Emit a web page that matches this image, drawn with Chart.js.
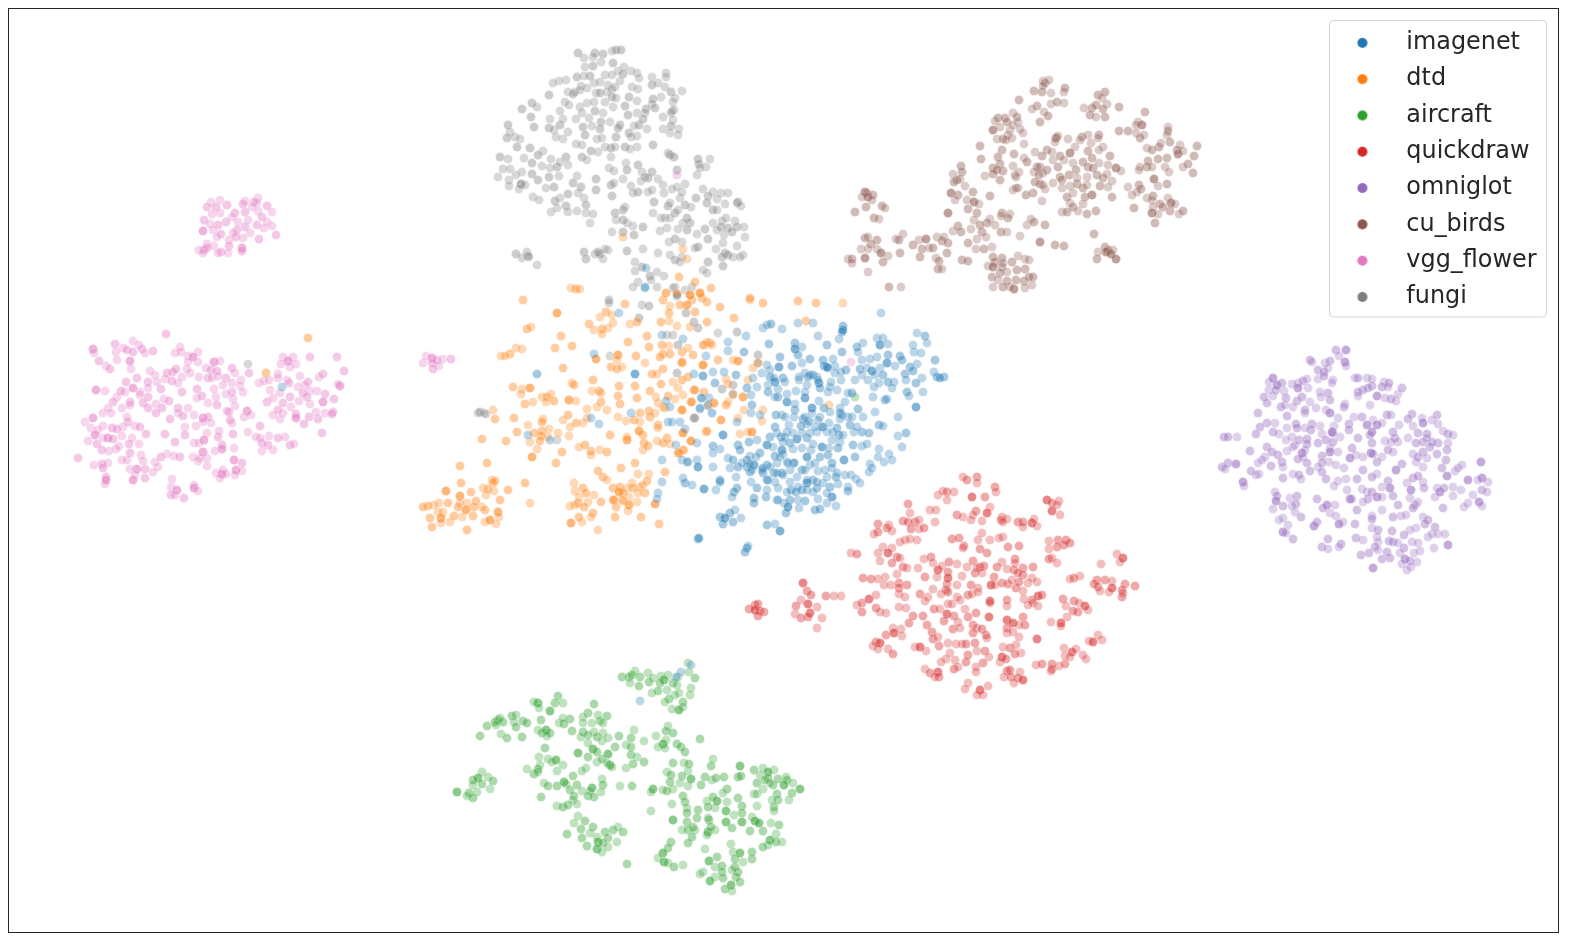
<!DOCTYPE html>
<html><head><meta charset="utf-8">
<style>html,body{margin:0;padding:0;background:#fff}canvas{display:block}</style>
<script src="https://cdn.jsdelivr.net/npm/chart.js@4"></script>
</head><body><canvas id="c" width="1573" height="940"></canvas>
<script>
// every point is x, y, n : n = how many samples overlap on that spot
const seriesNames=['imagenet','dtd','aircraft','quickdraw','omniglot','cu_birds','vgg_flower','fungi'];
const seriesColors=['#1f77b4','#ff7f0e','#2ca02c','#d62728','#9467bd','#8c564b','#e377c2','#7f7f7f'];
const fungi=[578,53,2,584,58,1,595,53,2,593,57,1,603,54,2,612,51,1,616,50,2,621,50,2,613,63,2,601,62,1,593,66,2,585,67,1,618,71,1,624,67,1,631,71,1,623,74,2,637,73,1,639,78,1,620,81,1,605,75,1,612,75,1,590,76,2,584,76,1,577,77,2,566,80,1,559,81,1,553,83,1,581,86,1,594,83,1,600,82,1,608,85,1,615,87,1,632,87,1,638,89,1,652,77,1,652,85,2,658,83,1,666,73,1,666,77,1,665,87,1,671,92,2,682,91,1,675,98,1,673,102,1,661,97,1,653,99,2,652,104,1,655,108,2,672,111,1,674,110,1,671,113,1,663,117,1,673,120,1,671,126,2,663,129,1,679,129,1,670,133,1,678,135,1,549,95,2,568,92,1,573,94,2,575,92,1,580,90,1,587,88,1,596,93,1,600,93,2,607,92,1,612,89,1,565,102,1,569,105,1,560,111,1,580,107,1,587,103,1,594,102,1,605,102,1,612,97,2,616,98,1,625,106,2,629,97,2,637,101,1,646,109,2,645,113,1,637,113,1,628,115,2,613,107,1,603,113,1,595,111,2,589,118,1,582,113,1,576,119,1,601,122,2,610,122,1,620,125,2,618,128,2,634,126,1,639,125,2,643,119,2,647,129,1,583,127,2,592,126,1,600,129,2,585,135,2,597,139,1,602,138,1,616,137,2,629,133,2,631,137,1,637,136,1,560,125,2,563,119,1,550,119,1,549,128,2,534,127,2,556,137,1,563,139,1,568,132,1,554,130,1,522,109,2,532,103,2,537,107,1,531,117,2,508,125,2,510,132,1,507,138,2,515,137,1,520,139,1,517,147,2,530,148,2,543,151,1,538,155,2,524,158,1,551,159,1,500,157,2,508,159,1,532,163,2,503,169,1,510,169,1,522,172,1,542,166,1,550,168,1,557,167,2,566,157,2,568,165,1,560,162,1,532,174,2,516,175,1,498,177,1,509,180,1,521,184,3,525,185,1,519,189,1,509,186,1,538,180,2,549,177,2,559,176,1,577,176,1,533,197,1,546,188,1,554,187,2,560,198,1,568,194,2,539,200,1,555,201,2,573,183,2,581,187,2,578,193,1,584,198,1,596,179,2,596,190,2,566,206,2,568,212,1,557,208,1,551,212,1,577,211,1,586,205,2,586,213,1,593,214,1,590,223,1,576,144,1,582,145,1,591,151,2,598,152,1,605,147,1,611,148,2,615,147,1,611,157,1,625,147,2,630,149,1,637,147,1,582,157,2,587,160,1,609,168,1,614,171,1,626,163,1,627,170,2,623,179,1,638,165,2,642,172,1,652,172,2,648,178,2,645,177,1,658,179,1,653,145,2,668,153,1,670,155,2,674,157,2,677,170,2,698,159,2,699,164,2,710,159,1,706,167,1,697,175,1,700,168,1,611,185,2,614,183,1,612,196,2,631,186,1,638,192,2,633,193,1,641,181,1,648,192,1,652,190,1,663,185,1,664,193,1,672,189,1,677,187,1,685,184,1,680,198,1,682,192,1,696,198,2,654,202,2,668,206,2,670,203,1,685,205,2,691,207,1,703,189,1,713,192,1,721,193,1,728,193,1,708,196,2,707,203,2,717,199,1,725,204,1,738,202,2,737,203,1,741,206,1,713,210,2,717,210,1,615,213,2,623,210,2,625,207,1,616,220,1,623,220,2,627,223,1,653,213,1,661,218,1,665,218,1,675,213,2,678,210,1,670,218,1,687,218,2,690,223,2,683,223,1,633,226,1,643,227,2,612,232,1,623,232,2,634,235,2,660,231,1,667,228,1,678,229,1,687,230,2,697,234,1,705,229,2,713,223,1,722,221,1,726,218,1,721,227,2,728,228,2,735,221,1,737,227,2,744,227,1,745,237,1,732,232,2,717,230,1,724,235,1,708,239,2,698,247,2,695,248,1,716,249,1,723,243,1,737,246,1,725,253,2,728,255,2,722,257,2,733,257,1,743,255,1,740,257,1,723,266,2,708,262,2,703,270,1,707,273,1,669,242,1,675,239,2,682,242,1,670,255,1,675,260,2,682,257,1,680,262,1,643,249,1,658,253,1,664,276,1,657,272,1,635,262,1,627,251,2,635,271,1,642,267,2,650,276,2,651,280,1,638,282,1,633,287,1,657,287,1,675,287,1,685,290,1,692,287,1,516,254,2,527,252,1,528,256,2,529,257,1,522,258,1,537,265,1,584,252,2,586,259,2,595,254,1,598,252,2,600,254,2,603,259,1,608,250,1,605,249,1,478,413,1,480,412,2,484,413,1,486,414,1,610,356,1,557,440,1,609,300,2,609,303,1,642,305,1,649,306,2,639,318,2,673,288,1,686,313,2,694,322,2,698,328,2,667,335,1,673,335,1,678,345,2,677,373,2,708,406,1,695,418,2,718,333,1,737,332,2,758,355,2,722,389,2,733,385,2,708,405,2,694,418,2,758,363,2,733,394,2,248,364,1];
const cu_birds=[1019,100,2,1034,91,2,1043,81,1,1045,83,2,1049,80,1,1042,92,2,1051,93,1,1043,86,1,1037,106,2,1032,109,1,1051,104,1,1057,102,2,1064,103,1,1064,92,1,1065,88,2,1044,112,1,1048,116,2,1040,122,2,1098,95,2,1105,92,2,1102,98,1,1084,108,1,1092,108,2,1096,105,2,1107,104,1,1103,109,2,1090,115,2,1096,117,1,1105,117,2,1119,107,2,1145,112,2,1138,122,1,1142,125,3,1136,125,1,1119,131,2,1128,131,2,1136,133,1,1140,138,2,1144,135,1,1168,127,1,1168,131,2,1167,135,1,1161,143,1,1159,147,2,1147,148,1,1152,150,2,1170,142,2,1180,145,1,1177,150,2,1178,154,3,1183,151,1,1197,146,2,1194,156,2,1193,173,2,1188,164,2,1183,167,1,1167,158,2,1158,159,2,1148,161,2,1147,167,2,1140,167,1,1139,170,1,1152,167,1,1165,167,1,1169,172,1,1154,179,3,1167,184,2,1158,186,1,1139,185,2,1128,187,1,1141,189,2,1137,192,1,1132,195,1,1147,198,1,1134,208,2,1153,196,2,1152,200,1,1168,198,1,1160,204,2,1163,207,2,1171,203,3,1175,204,1,1170,211,2,1153,207,1,1152,213,3,1158,214,1,1179,214,1,1183,211,2,1155,223,2,1112,197,2,1116,168,3,1121,171,1,1108,165,1,1110,156,2,1099,163,1,1103,147,1,1099,150,1,1099,135,2,1098,138,1,1088,135,1,1082,137,2,1080,140,1,1091,143,1,1075,147,1,1070,153,3,1068,139,1,1056,138,3,1058,136,1,1055,142,1,1047,150,2,1052,152,1,1035,152,1,1042,156,2,1060,156,2,1053,160,1,1064,160,1,1058,167,2,1040,167,2,1037,167,2,1047,170,2,1043,173,1,1034,172,1,1039,175,2,1083,162,2,1073,163,1,1076,170,2,1088,151,2,1092,158,2,1088,167,2,1093,168,2,1087,177,1,1097,175,2,1103,178,2,1107,174,1,1112,181,1,1108,187,1,1100,186,2,1060,177,2,1069,175,2,1062,180,2,1053,183,1,1062,188,1,1070,186,1,1077,184,2,1083,188,2,1087,185,1,1077,178,1,1092,195,3,1085,197,2,1073,193,1,1067,197,2,1070,203,1,1083,204,1,1062,212,1,1067,212,2,1073,207,2,1078,211,1,1087,214,2,1096,211,2,1035,182,2,1040,184,2,1045,189,1,1043,185,1,1033,193,2,1026,195,2,1042,201,1,1013,190,1,1018,188,1,1016,188,1,1015,175,1,1019,172,1,1013,166,1,1016,177,1,1014,154,2,1024,158,1,1027,162,2,1024,144,1,1002,150,2,998,157,2,1000,164,2,1003,171,2,993,168,2,997,170,2,993,174,2,1000,180,2,985,176,1,980,146,2,981,159,2,995,121,1,998,118,2,1005,118,2,1007,122,2,1013,113,1,1017,117,2,1018,122,1,993,130,3,1000,127,1,1010,130,1,1013,125,1,1020,129,1,1023,133,1,1008,135,1,997,139,1,1003,139,2,1012,138,1,1006,140,1,961,166,2,962,172,2,953,174,1,957,180,2,954,182,2,960,179,1,951,193,3,965,186,1,958,195,2,973,192,2,955,200,1,967,200,1,974,202,3,979,204,1,968,209,2,948,213,3,977,213,2,990,196,2,974,220,1,1002,213,2,1001,216,1,1010,214,1,1008,218,2,990,219,1,995,225,1,987,223,2,980,225,2,982,232,2,986,237,1,977,239,1,971,229,1,958,226,2,953,231,1,961,232,2,968,243,2,976,249,1,984,249,2,992,247,1,1001,232,2,1007,232,1,1020,236,1,1027,225,1,1031,219,1,1034,222,2,1045,225,2,1040,242,3,1055,245,2,1064,246,2,1094,234,2,1105,247,2,1108,250,2,1113,250,1,1106,252,3,1111,254,3,1116,259,3,1098,252,1,1097,259,2,993,257,2,1002,258,2,995,262,2,988,266,1,993,267,3,1002,267,2,1003,263,1,1012,262,2,1018,256,1,1025,259,1,1029,260,1,1025,269,2,1017,270,2,1007,272,1,1000,273,2,992,277,2,998,280,1,1007,281,2,1016,280,2,1024,281,2,1029,277,2,1033,277,2,1032,285,1,1025,288,1,1014,289,3,1010,287,1,1003,287,2,993,287,1,865,192,3,867,193,1,868,197,3,862,197,1,873,195,2,872,200,1,866,207,2,882,206,2,885,208,1,855,212,2,874,218,2,879,219,1,865,238,2,868,237,1,877,240,2,871,244,2,861,249,1,868,249,1,877,249,1,881,253,3,888,256,1,883,262,2,848,259,1,852,259,2,852,263,1,865,258,3,868,272,1,889,287,2,901,287,1,896,239,1,899,240,2,903,234,1,900,253,2,913,245,2,919,240,1,926,239,3,922,249,2,929,248,1,933,248,2,920,257,2,937,237,1,942,241,2,944,237,1,948,243,2,947,253,2,936,258,1,939,261,2,938,269,2,942,269,1,962,260,2,968,261,2];
const vgg_flower=[211,202,1,220,200,1,227,205,2,207,207,2,216,207,2,245,201,1,243,204,2,258,198,1,254,202,2,257,203,1,267,206,2,252,207,1,272,212,1,258,211,1,245,212,2,262,217,2,235,213,2,232,217,1,212,214,1,220,213,1,204,220,2,226,222,2,238,222,1,218,225,2,210,224,1,248,220,1,267,222,1,257,225,2,245,227,2,264,228,1,272,226,1,203,231,3,213,230,1,221,234,2,237,230,2,250,233,1,233,233,1,259,239,2,276,235,2,236,237,2,229,240,1,243,238,1,217,237,1,207,244,1,214,246,1,199,250,1,204,250,2,207,248,2,203,253,1,229,246,2,221,252,2,218,253,1,228,253,1,242,248,3,242,251,2,166,334,2,93,349,3,94,353,1,99,361,2,115,344,2,123,348,1,116,352,1,127,350,2,133,352,2,133,341,1,139,345,1,130,361,3,117,360,1,142,349,2,145,353,1,153,351,2,106,366,1,110,369,2,131,369,1,180,347,1,175,353,1,181,352,1,188,356,1,193,357,3,198,352,1,188,362,1,198,362,1,214,362,3,220,361,1,232,368,2,235,373,1,249,373,2,206,368,1,211,370,2,217,371,2,199,377,1,208,378,2,212,378,1,226,378,2,218,376,1,176,369,2,173,372,2,167,373,2,187,369,1,190,373,1,182,377,1,150,371,1,155,375,1,137,378,2,126,382,2,148,382,2,157,382,1,165,379,1,172,381,2,178,383,1,133,388,3,140,392,1,148,388,1,125,392,1,121,391,2,96,390,3,105,391,1,161,389,2,148,397,2,140,395,1,117,397,1,113,402,2,182,392,2,164,399,1,169,401,2,143,403,2,130,402,2,130,405,1,156,404,1,122,408,1,148,408,2,162,408,2,156,413,2,178,408,2,188,408,1,178,413,1,183,416,2,197,389,2,202,396,2,197,398,1,214,389,1,216,397,1,208,403,1,217,405,2,223,385,1,232,383,1,232,392,2,241,380,1,240,386,1,243,392,1,226,394,1,233,399,1,235,406,1,229,412,2,227,411,1,247,411,3,244,417,1,251,415,1,230,420,2,232,423,1,194,415,1,203,418,3,208,417,2,196,426,1,211,423,1,203,422,1,185,427,1,170,419,2,165,434,2,146,434,2,248,432,1,260,426,2,185,435,2,175,442,2,207,433,1,218,437,2,219,431,1,233,434,2,204,440,3,194,443,1,199,443,1,222,445,2,222,449,3,234,448,1,215,451,1,203,452,3,207,458,1,193,457,1,198,461,1,200,458,1,207,466,1,180,457,2,174,456,1,167,454,1,161,457,2,155,462,1,158,467,1,234,460,3,242,463,2,236,470,3,242,471,1,235,475,1,216,473,1,223,470,1,222,474,3,226,474,1,220,478,1,283,357,1,293,357,1,288,361,3,281,364,1,296,364,1,290,367,1,310,357,2,337,357,2,344,371,2,323,374,2,319,377,1,300,376,1,278,374,1,278,378,1,259,383,1,264,381,1,269,380,1,287,380,1,289,383,2,308,382,2,305,385,1,298,387,1,340,386,3,338,384,1,325,394,2,317,391,1,310,391,1,303,393,2,270,390,1,280,393,1,290,397,2,283,403,2,307,397,2,310,404,1,323,402,3,334,399,2,299,401,1,267,402,2,273,398,1,291,407,1,278,410,2,283,413,1,273,415,1,280,419,1,296,414,2,296,418,3,309,417,2,318,419,2,316,412,1,325,413,1,333,412,2,332,414,2,304,424,2,322,433,2,256,437,1,260,438,1,269,436,1,278,438,2,285,437,1,262,443,2,268,445,2,262,451,1,273,450,1,290,445,2,294,444,1,103,413,1,108,408,1,111,413,1,93,418,3,85,422,1,128,422,2,127,417,1,123,427,1,135,426,1,140,427,2,103,426,1,91,428,1,98,430,1,112,428,2,117,429,2,95,435,3,108,438,3,113,439,2,122,436,1,132,438,1,103,438,1,88,441,1,97,444,2,129,444,2,139,444,1,119,446,1,102,450,2,109,451,1,116,449,1,130,453,2,78,458,2,94,465,1,102,464,2,108,463,1,103,468,2,122,460,1,127,460,1,141,455,1,143,461,1,137,469,3,145,469,2,130,469,1,135,475,1,153,472,1,145,478,2,133,480,3,106,477,2,106,480,3,105,484,1,172,479,1,171,487,1,177,490,3,171,495,2,175,495,1,184,498,2,194,485,1,194,488,3,198,491,1,426,356,1,432,358,3,437,360,2,443,359,1,451,359,2,423,363,1,432,363,2,439,366,1,433,369,2,851,362,1,677,175,1];
const dtd=[308,338,2,266,373,2,523,300,2,557,313,3,527,329,2,531,327,1,561,336,2,572,346,2,555,348,2,516,348,1,522,349,1,510,354,2,501,356,1,505,356,1,563,368,2,571,288,1,576,289,2,580,289,1,625,304,2,606,312,2,600,317,1,612,315,1,613,323,1,589,324,2,594,330,1,602,329,2,608,328,1,602,334,1,666,293,1,663,300,2,677,294,2,690,295,2,700,293,2,692,300,2,702,298,2,707,302,2,687,305,3,670,306,1,680,305,2,669,313,2,695,312,2,661,322,2,669,321,1,630,324,1,637,322,2,677,326,1,707,322,2,690,327,1,647,336,2,628,342,2,649,347,2,669,346,1,662,345,2,682,352,2,688,348,1,618,355,3,636,356,2,663,354,2,670,354,2,660,357,2,596,359,3,617,360,1,645,363,1,693,355,2,704,345,1,710,343,2,682,363,2,611,367,2,617,369,2,622,367,1,663,369,2,652,374,2,657,374,1,703,365,2,673,382,1,682,380,2,688,377,2,593,380,2,661,384,2,572,383,1,574,385,2,513,387,2,522,389,1,530,388,3,521,394,1,619,386,2,635,386,2,592,391,1,599,391,2,601,393,1,650,391,2,618,396,2,637,398,2,542,397,1,551,394,1,547,397,2,546,402,1,554,401,2,569,400,3,576,401,1,525,404,2,533,402,1,620,404,2,601,402,2,597,407,1,607,410,1,656,397,1,658,403,1,668,396,2,675,399,1,678,388,1,683,395,1,695,390,2,692,402,2,663,407,1,682,410,2,587,409,1,568,415,2,563,420,1,493,410,1,495,419,2,514,418,2,543,419,1,542,422,2,528,425,1,570,427,1,576,423,2,583,423,1,587,418,1,618,417,1,626,421,1,640,413,2,634,420,2,640,422,1,649,411,2,650,417,2,655,413,1,658,425,2,665,408,1,643,435,2,639,431,3,658,428,1,517,432,2,534,433,2,542,431,2,541,436,2,549,429,1,558,433,1,548,437,1,530,442,1,506,441,2,482,439,2,569,436,1,610,435,2,627,440,3,627,437,1,540,441,2,667,438,2,657,441,1,663,443,2,670,444,1,683,433,2,691,441,2,706,432,1,585,445,2,579,447,1,644,443,2,648,446,2,643,450,1,591,451,2,600,450,1,607,452,2,562,452,2,537,449,1,532,457,3,591,455,1,684,450,1,678,453,2,556,463,2,460,466,2,487,463,2,598,471,2,621,468,2,635,463,2,638,474,1,665,472,2,603,477,2,607,480,1,649,474,1,647,481,2,632,483,1,461,483,2,525,483,2,574,483,1,583,488,2,575,491,1,586,493,2,613,488,2,620,487,2,627,488,1,619,492,3,623,493,2,633,488,2,640,487,1,643,485,1,645,493,2,638,493,1,629,497,1,613,500,2,622,500,1,594,495,1,579,497,1,578,503,2,588,502,1,601,502,2,614,500,2,623,501,1,637,502,1,629,505,3,655,504,3,616,507,2,575,505,1,570,506,1,584,507,2,628,511,1,593,513,2,591,517,1,579,517,2,582,522,1,571,523,3,615,517,2,641,517,2,659,524,2,598,530,1,492,480,1,495,481,2,493,483,1,483,488,1,488,489,2,494,491,1,508,490,2,446,491,3,460,496,3,471,492,2,486,495,1,500,500,2,530,503,1,476,501,2,439,503,1,434,505,1,428,506,2,423,507,2,448,503,2,460,503,1,467,503,1,458,507,2,466,510,3,474,507,2,485,510,2,482,507,1,438,512,1,443,512,1,462,517,1,454,516,2,473,516,2,498,512,3,499,517,1,430,518,2,441,518,3,441,523,1,450,522,1,485,522,1,490,520,3,496,524,1,432,527,2,467,530,2,734,318,2,750,300,1,763,303,2,798,301,2,816,303,2,843,303,1,806,321,2,720,307,2,707,342,1,712,345,1,703,345,1,682,362,2,703,365,2,718,360,2,733,360,1,738,361,3,753,368,1,758,363,1,748,380,1,726,379,1,728,384,1,694,390,2,704,392,2,733,395,1,743,397,3,728,402,1,714,403,3,726,405,2,744,410,1,763,410,1,682,410,2,691,402,2,721,420,3,738,418,1,762,421,1,707,431,2,683,433,2,691,441,2,752,432,3,748,432,1,740,434,1,683,450,1,679,453,2,829,405,1,623,237,1,683,249,1,687,259,1,679,277,2,695,282,2,711,288,2,666,293,1,677,294,2,690,295,2,700,293,2,750,298,2];
const imagenet=[881,313,1,763,328,1,767,325,1,771,324,2,782,329,1,798,323,1,813,323,1,843,326,2,843,330,3,842,332,2,818,336,1,839,339,1,827,345,2,746,336,1,728,342,1,728,351,1,769,344,2,795,343,2,802,347,1,795,349,3,798,355,2,744,352,2,780,357,2,706,356,1,917,333,1,925,336,2,927,343,1,877,338,1,883,338,1,880,345,3,888,344,1,863,343,1,857,347,2,842,352,2,858,352,1,913,345,1,914,352,1,921,353,1,888,355,2,877,357,1,900,356,2,902,360,2,870,359,1,862,360,1,887,363,3,895,366,1,917,364,1,935,360,2,910,367,2,880,368,1,872,371,3,860,369,2,867,368,1,883,375,2,875,375,1,905,374,2,913,371,2,934,372,1,937,377,2,944,377,2,940,378,2,922,378,1,906,380,1,916,383,2,888,382,2,894,382,1,879,383,1,868,380,1,862,375,1,855,380,1,874,387,1,892,388,1,907,392,2,923,392,1,909,396,1,873,397,1,885,400,2,887,399,1,916,407,3,875,412,1,898,417,1,906,433,2,898,436,1,902,447,1,879,425,2,883,426,1,879,449,1,889,454,1,878,457,1,884,462,1,892,460,1,870,464,1,872,468,1,869,472,1,863,417,1,858,409,2,848,417,1,842,415,2,852,393,2,848,393,1,845,402,1,841,380,1,846,370,2,835,366,1,833,359,1,823,360,2,824,366,2,827,367,3,810,359,2,802,363,1,792,366,2,779,367,3,767,365,1,762,373,1,770,377,2,775,382,3,783,378,2,757,387,1,768,392,2,753,378,1,747,388,2,751,395,1,736,375,2,724,372,1,713,372,1,715,383,2,703,376,1,701,398,1,709,398,1,700,409,1,712,413,2,752,405,2,751,413,1,737,422,1,760,415,1,778,397,2,787,402,3,796,391,1,805,398,3,807,385,1,819,383,3,820,388,2,831,382,1,828,392,1,817,377,1,808,377,2,799,380,1,805,373,1,813,375,2,819,401,1,824,408,2,830,412,1,840,413,2,812,408,3,795,410,2,782,415,1,776,415,2,785,417,1,794,417,1,803,419,2,809,421,2,820,417,1,801,426,2,789,425,1,775,427,2,770,437,2,757,440,1,749,442,2,738,445,2,740,450,2,713,446,2,720,449,1,713,453,1,723,435,3,767,445,3,781,437,2,787,432,1,797,439,3,807,438,2,817,432,1,823,427,2,829,423,1,837,428,2,850,425,2,854,432,1,862,432,2,869,433,2,839,435,2,832,440,1,840,442,1,822,447,3,838,448,2,853,445,2,862,446,1,867,444,1,811,450,1,790,443,2,782,450,3,775,456,2,783,454,1,793,449,1,760,453,2,750,456,1,728,458,1,733,460,2,682,460,1,697,460,1,687,462,1,698,467,3,713,467,1,747,460,2,730,468,1,738,467,2,747,467,2,754,465,3,750,472,2,767,465,2,777,463,1,794,463,3,787,462,1,807,457,3,820,457,2,828,455,2,832,463,2,844,460,3,855,457,2,845,475,1,851,475,1,856,479,1,860,483,1,848,487,1,848,491,2,838,484,1,836,477,2,827,477,1,818,471,1,810,465,1,802,470,2,790,470,1,782,473,2,774,473,2,763,473,2,763,468,2,752,470,1,736,477,1,720,480,2,720,482,2,683,478,1,685,483,2,692,485,1,704,489,3,716,490,1,737,488,2,734,492,2,732,497,1,751,482,1,757,488,2,767,480,2,775,482,1,778,488,1,766,497,2,777,500,1,754,498,2,754,503,2,790,482,1,791,490,2,796,492,2,802,490,2,807,483,3,813,480,2,807,490,1,817,488,2,823,483,1,830,487,2,832,497,3,827,503,1,836,506,1,805,501,2,798,500,1,790,500,2,784,503,1,788,507,3,786,513,2,799,508,1,815,510,2,820,509,2,818,499,1,813,492,1,735,510,1,730,513,2,720,517,2,725,518,3,723,524,2,733,522,2,741,518,1,767,525,2,775,524,1,780,531,3,698,539,2,748,546,1,747,548,2,745,552,2,619,313,1,645,288,1,594,354,1,537,374,2,635,374,3,591,418,1,599,424,1,528,435,1,550,440,1,631,413,1,662,335,1,683,339,1,668,422,1,672,422,1,680,422,1,685,429,1,676,445,1,662,460,1,688,462,1,662,482,1,658,493,1,657,499,1,699,538,2,694,374,1,703,376,1,700,408,1,702,398,1,666,401,1,670,407,1,697,443,1,646,268,1,645,287,1,677,296,1,282,387,1,691,665,1,681,672,1,676,677,1,640,701,1,770,370,1,774,378,1,768,385,1,778,389,1,785,382,1,799,377,1,810,375,1,818,380,1,828,368,1,835,373,1,841,372,1,830,387,1,837,390,1,787,394,1,775,397,1,805,392,1,795,404,1,812,413,1,818,420,1,805,417,1,807,424,1,815,427,1,793,433,1,785,437,1,777,433,1,783,442,1,802,433,1,810,433,1,827,432,1,822,427,1,833,432,1,840,408,1,840,419,1,852,417,1,857,427,1,843,435,1,829,448,1,813,444,1,802,448,1,773,447,1,780,457,1,788,463,1,770,467,1,756,457,1,742,463,1,750,464,1,762,470,1,777,473,1,768,480,1,783,475,1,797,477,1,805,470,1,815,463,1,825,470,1,832,468,1,837,473,1,807,480,1,798,487,1,817,482,1,827,493,1,787,492,1,778,500,1,767,490,1];
const quickdraw=[963,477,1,967,480,2,977,477,2,977,483,1,995,487,2,996,492,1,947,492,2,943,491,1,938,495,1,954,492,1,947,500,1,972,497,3,985,497,2,908,504,2,930,510,1,936,510,1,910,513,1,990,507,1,987,513,3,976,511,2,973,515,1,957,515,2,963,517,1,971,520,1,982,521,1,935,522,1,1002,517,1,1007,519,1,1001,520,2,1003,522,1,1018,522,2,1023,522,2,1032,523,3,1034,519,1,1037,526,1,1023,527,1,1047,500,3,1052,503,2,1059,501,1,1052,511,3,1057,505,1,1060,515,1,903,521,2,908,522,2,915,522,2,919,520,1,911,529,2,919,529,1,924,528,2,878,524,2,889,525,1,887,528,2,892,531,1,878,532,2,874,534,1,900,542,1,905,540,1,910,539,1,917,540,1,952,539,2,959,538,2,964,546,2,963,548,1,978,540,1,982,533,1,980,549,2,990,540,1,987,553,2,1003,537,1,999,538,1,1008,547,2,1019,546,2,1049,541,1,1058,540,2,1066,540,2,1070,543,2,1064,545,2,1057,547,2,1049,549,1,1052,558,1,1049,559,2,1057,563,1,1117,554,1,1123,558,3,1120,562,1,1101,564,1,1015,559,2,1002,562,1,1015,563,1,997,567,2,1007,569,1,1014,570,2,1023,568,2,1033,567,2,1023,575,2,1018,573,2,1080,576,1,1074,578,2,1070,579,1,883,547,1,892,548,1,888,553,3,878,553,1,897,557,2,900,558,1,880,561,1,892,563,2,903,567,2,907,568,1,851,553,1,857,554,2,918,568,1,924,559,1,931,557,2,933,563,1,938,570,3,942,566,1,937,577,1,925,577,2,949,562,2,957,564,1,948,572,2,948,578,3,962,576,1,967,567,1,973,561,2,975,573,2,980,567,2,984,566,2,977,568,1,982,573,1,947,584,2,946,590,2,948,592,2,971,585,2,978,588,1,957,585,1,994,577,2,991,585,3,995,585,1,1002,583,2,1008,584,2,1016,588,2,1019,582,2,1028,583,1,1032,578,1,1037,582,1,1023,591,1,1012,580,1,863,578,2,871,579,2,878,579,1,885,577,1,884,585,1,891,585,1,897,574,1,899,583,2,899,588,2,907,585,2,899,594,1,905,597,1,920,594,2,933,589,1,928,597,1,925,601,1,941,594,1,957,597,1,968,595,2,972,594,1,978,592,1,960,600,1,990,601,3,990,603,1,1007,600,2,1007,606,1,1038,596,3,1042,595,2,1032,600,2,1024,599,1,1033,603,1,1038,606,1,1028,605,1,1063,599,2,1074,601,2,1079,603,1,1085,606,3,1066,606,1,1088,610,1,1078,612,2,1073,611,2,1067,617,1,1061,623,3,1051,622,1,1061,626,1,1097,580,2,1105,580,2,1112,581,1,1112,588,3,1125,584,2,1135,586,2,1122,590,2,1122,597,2,1123,593,1,1094,584,2,1098,587,2,1100,591,1,1109,592,1,869,599,3,876,595,1,862,603,2,857,605,1,862,612,2,876,608,2,880,612,1,886,613,1,826,596,2,834,596,1,841,596,1,803,583,3,807,591,2,811,595,2,801,600,1,796,606,2,808,604,3,817,607,1,810,613,3,795,614,1,801,618,2,808,617,2,822,618,1,817,628,1,755,605,2,758,604,2,749,609,2,755,610,3,760,611,2,764,612,2,758,616,2,899,607,1,906,608,1,913,616,2,909,623,2,923,616,2,927,625,2,932,632,2,934,609,2,940,609,1,948,604,1,952,604,1,947,614,3,954,616,2,965,609,1,968,617,2,976,613,2,989,617,3,944,621,2,958,622,1,973,625,2,977,628,1,982,629,2,953,629,2,960,628,1,973,633,2,986,635,2,987,638,1,1007,620,3,1013,623,3,1023,617,2,1025,625,2,1019,625,1,1007,628,2,1007,633,1,1013,632,1,1019,637,1,1037,639,3,893,628,1,901,629,1,886,635,2,894,633,3,902,636,1,876,642,2,880,643,3,873,646,1,878,649,1,888,649,1,893,654,2,933,639,2,938,637,1,939,646,2,915,647,1,920,647,3,926,651,1,948,643,1,956,644,1,962,644,1,966,644,2,975,643,2,977,651,1,985,651,2,950,653,1,968,655,2,989,657,1,1003,647,1,1010,648,2,1016,645,1,1021,653,1,1015,654,2,1002,657,3,1000,662,1,1006,659,2,946,659,1,941,662,1,955,660,1,966,662,2,983,663,2,925,669,1,930,673,2,938,672,3,939,677,2,935,677,1,954,669,2,958,667,1,976,667,1,976,672,1,968,683,1,965,689,1,988,686,1,980,690,3,977,695,1,983,695,1,1007,671,2,1010,670,2,1004,677,1,1011,677,2,1020,672,1,1018,678,2,1023,680,3,1014,683,1,1036,665,1,1042,664,2,1052,664,2,1052,669,2,1051,671,1,1059,666,1,1065,664,2,1064,648,1,1072,652,3,1076,649,1,1065,656,1,1070,657,1,1083,655,1,1086,659,1,1089,641,1,1093,642,3,1098,635,1,1102,640,1];
const omniglot=[1336,350,2,1346,350,3,1339,356,1,1310,360,2,1312,362,1,1325,363,1,1330,361,2,1345,362,3,1346,366,1,1318,370,2,1324,372,2,1328,368,1,1318,379,1,1324,376,2,1333,380,1,1332,383,1,1273,378,3,1269,382,1,1282,383,2,1277,385,3,1292,384,1,1298,383,1,1303,381,2,1307,379,1,1298,388,3,1308,388,1,1269,390,1,1276,390,2,1284,391,1,1264,397,2,1273,396,1,1267,403,2,1286,398,2,1297,401,2,1302,397,2,1293,407,1,1310,402,1,1281,407,2,1285,405,1,1316,408,1,1305,410,2,1305,413,1,1320,392,1,1328,393,2,1321,397,1,1330,400,2,1345,404,1,1344,407,2,1326,410,1,1330,413,3,1338,418,1,1258,413,2,1287,416,2,1355,378,1,1358,378,2,1367,378,1,1372,379,1,1372,386,2,1368,388,2,1363,390,2,1358,392,2,1358,396,1,1377,396,3,1385,398,1,1391,399,2,1396,401,1,1398,394,1,1402,388,2,1384,382,1,1389,383,2,1382,387,2,1388,387,1,1370,405,1,1387,415,2,1391,415,1,1412,414,2,1408,419,2,1437,415,2,1432,420,1,1422,418,1,1438,424,1,1423,423,3,1413,426,1,1399,425,1,1418,433,2,1427,434,2,1443,431,1,1448,434,2,1453,435,1,1408,438,1,1354,417,1,1362,417,2,1373,420,1,1349,424,2,1367,425,3,1377,425,3,1382,423,1,1349,430,2,1372,432,3,1370,435,2,1385,441,1,1393,432,2,1395,438,2,1398,442,1,1391,442,1,1358,438,2,1372,443,2,1340,437,1,1333,433,2,1332,432,3,1322,434,1,1334,426,1,1320,426,1,1312,424,2,1311,430,2,1305,428,1,1296,424,2,1297,428,2,1287,428,1,1275,423,1,1267,423,2,1260,427,2,1256,434,2,1273,432,2,1279,434,1,1292,437,1,1286,440,1,1299,440,2,1307,439,2,1295,445,1,1307,444,2,1318,443,2,1326,440,2,1333,442,2,1330,448,1,1267,447,2,1224,437,2,1228,437,2,1237,437,1,1250,451,2,1272,452,2,1278,455,2,1287,451,1,1293,447,1,1302,453,3,1305,450,1,1322,456,2,1330,452,3,1338,452,1,1265,457,1,1258,463,1,1262,460,1,1282,462,2,1283,467,1,1271,466,2,1298,459,2,1303,457,1,1307,463,2,1222,467,2,1228,463,2,1225,469,1,1236,464,3,1251,471,2,1256,475,1,1259,474,1,1243,482,3,1244,486,1,1352,448,2,1356,455,1,1350,458,3,1363,457,1,1371,453,3,1373,454,2,1377,462,2,1382,457,1,1388,450,2,1393,452,1,1329,462,1,1322,463,2,1318,467,1,1336,465,1,1344,468,1,1322,472,2,1310,471,2,1293,474,1,1299,475,2,1301,479,1,1283,478,2,1326,479,2,1363,470,2,1377,474,1,1372,477,2,1396,470,3,1402,464,2,1423,467,1,1442,468,2,1447,476,3,1455,471,1,1462,465,1,1458,468,1,1446,460,2,1447,450,2,1448,443,1,1438,443,2,1432,442,2,1427,438,1,1423,442,2,1416,443,2,1430,447,2,1423,452,2,1413,454,1,1418,457,2,1416,462,1,1427,458,1,1437,454,2,1357,479,2,1346,479,1,1338,481,1,1334,486,1,1347,490,1,1362,489,1,1367,492,1,1372,492,2,1377,497,3,1382,497,1,1368,499,2,1363,502,1,1350,499,3,1352,499,1,1388,481,2,1390,488,3,1382,487,1,1393,496,2,1398,505,2,1410,498,1,1411,490,3,1407,483,1,1413,478,2,1418,476,2,1423,482,1,1424,488,2,1435,497,1,1440,492,3,1437,488,1,1444,488,2,1453,487,1,1461,490,1,1453,496,1,1468,480,3,1481,462,3,1482,478,3,1478,480,1,1488,482,1,1482,490,2,1487,492,1,1473,495,1,1479,502,3,1468,503,1,1464,507,1,1482,506,1,1443,508,2,1415,505,2,1413,508,2,1418,502,1,1275,492,1,1277,496,2,1276,501,3,1273,509,1,1283,506,2,1290,498,1,1297,496,2,1296,504,2,1292,506,1,1295,512,1,1301,517,2,1317,499,2,1327,505,3,1335,505,1,1323,508,2,1330,513,1,1336,516,1,1343,522,1,1339,524,3,1355,524,2,1357,510,2,1382,510,1,1372,516,1,1372,519,2,1393,517,2,1401,516,1,1406,515,1,1423,517,1,1428,520,2,1425,524,2,1416,528,1,1410,530,1,1435,527,2,1428,537,1,1432,534,1,1438,534,1,1445,534,1,1317,522,2,1314,526,3,1283,518,1,1279,520,1,1288,525,1,1283,532,3,1286,533,1,1293,539,2,1372,528,1,1378,530,2,1392,531,2,1404,535,2,1377,537,1,1378,542,1,1356,538,2,1363,540,1,1328,539,2,1341,544,2,1339,547,1,1322,547,2,1328,549,1,1361,555,2,1369,553,2,1375,547,2,1378,550,1,1389,541,2,1393,542,2,1398,543,1,1412,542,1,1418,543,1,1404,548,2,1420,551,1,1434,548,1,1448,545,3,1387,552,2,1382,559,2,1390,558,2,1400,553,1,1414,553,1,1405,559,3,1410,561,2,1402,564,1,1411,567,1,1407,570,1,1417,562,1,1373,568,3];
const aircraft=[855,397,1,622,677,2,629,677,2,635,671,1,632,675,2,640,677,2,630,683,1,639,686,2,648,673,1,649,682,2,653,678,1,661,676,1,668,675,1,664,680,3,660,683,2,658,691,2,652,693,1,673,683,2,677,685,1,667,690,1,678,677,1,689,672,1,688,663,1,695,678,2,691,688,1,690,695,1,679,693,1,675,695,1,669,699,2,665,702,1,683,702,2,683,707,1,679,710,3,672,709,1,558,696,2,555,703,2,563,703,1,538,703,3,534,702,1,539,708,1,550,711,3,594,704,2,588,713,2,598,715,1,607,716,2,583,717,1,600,721,2,603,723,1,592,723,1,583,723,1,570,719,2,564,724,2,559,723,1,563,718,1,572,731,2,541,720,2,487,726,2,480,736,2,498,720,2,495,722,2,503,722,2,496,725,1,500,718,1,512,716,2,516,715,1,514,722,1,516,727,2,523,721,2,527,723,2,501,734,1,507,738,2,522,737,2,538,730,1,542,733,2,546,730,3,550,733,2,547,736,1,545,748,2,583,732,2,588,735,2,594,732,1,597,737,2,603,733,1,602,741,1,608,738,1,581,737,1,588,743,1,619,736,2,615,747,2,593,749,3,597,752,2,608,754,3,578,753,3,588,757,2,597,762,1,602,759,2,610,765,3,607,763,1,612,767,1,586,768,1,582,771,1,539,757,1,548,759,1,556,760,3,552,762,1,563,765,1,557,771,1,540,765,1,538,769,2,527,769,1,534,774,2,538,772,1,573,776,2,482,772,1,478,778,3,473,780,2,488,777,1,493,781,2,482,784,2,473,785,1,490,789,1,469,793,2,477,792,1,457,792,3,467,796,1,473,798,2,544,783,1,548,786,2,557,786,2,564,782,3,566,784,1,577,785,2,570,790,2,602,779,1,603,785,2,592,788,3,590,791,1,582,791,1,601,792,1,588,796,2,594,797,2,574,796,2,573,800,1,541,797,2,557,806,1,563,807,2,568,805,2,577,804,1,620,786,1,632,786,2,634,730,1,631,738,2,644,741,1,626,745,1,631,747,2,631,755,2,637,757,1,633,764,2,626,768,1,644,762,2,668,726,1,666,731,2,673,733,2,656,736,1,666,740,1,663,744,3,658,747,1,665,748,1,677,744,2,681,747,2,685,752,2,700,739,2,713,759,1,711,766,2,673,763,2,684,763,1,689,764,2,688,771,1,667,772,1,671,775,2,682,776,2,691,779,3,670,782,2,680,783,1,688,786,1,673,789,1,667,791,2,653,789,3,651,792,1,663,790,1,705,777,2,701,785,2,712,780,1,716,778,2,724,777,2,738,777,2,741,776,2,740,766,3,754,770,2,763,768,1,774,770,1,768,772,3,768,778,2,760,775,1,765,780,2,778,779,2,786,777,1,787,780,2,757,783,2,773,785,2,770,783,1,784,785,3,793,783,1,800,789,3,763,789,1,792,793,2,789,800,1,777,794,2,778,800,2,772,800,1,774,807,2,774,811,1,754,794,1,757,794,1,757,806,1,727,789,2,723,793,1,738,798,2,717,801,3,707,801,1,713,797,2,715,808,1,727,802,1,708,807,2,742,806,2,742,813,2,726,811,3,734,815,1,683,796,2,685,802,2,687,808,1,687,813,2,672,804,1,651,811,1,698,810,2,673,820,3,687,822,2,697,818,2,709,820,2,708,818,1,726,822,3,742,822,3,732,828,2,682,830,1,688,830,2,693,827,2,695,830,1,692,837,2,688,843,2,708,832,3,715,830,1,707,835,1,711,827,2,671,842,2,668,848,2,663,853,3,658,858,1,664,862,3,668,863,1,674,867,2,683,865,1,627,864,2,752,817,1,755,821,3,759,823,3,750,831,2,763,831,2,771,823,1,779,825,2,776,834,1,770,840,3,782,842,1,776,842,2,768,845,1,763,847,2,705,849,1,731,844,1,733,852,1,740,853,3,752,852,2,752,859,2,743,862,1,735,859,2,709,861,3,717,857,2,715,867,1,722,866,2,722,872,2,735,867,2,738,872,2,732,870,1,703,872,1,700,874,1,715,877,1,710,881,3,723,878,2,736,877,2,740,882,2,731,885,3,725,889,2,732,891,1,578,816,1,585,821,2,574,823,1,593,827,2,581,829,2,590,833,1,582,838,2,597,837,1,605,832,2,613,830,2,618,827,1,623,832,2,608,838,2,617,842,1,598,842,3,603,843,2,587,846,2,597,849,3,602,852,1,608,847,1,567,834,2];

const expand=a=>{const o=[];for(let i=0;i<a.length;i+=3)o.push({x:a[i],y:a[i+1],n:a[i+2]});return o;};
const seriesValues=[imagenet,dtd,aircraft,quickdraw,omniglot,cu_birds,vgg_flower,fungi];
const overlapAlpha=[0,.3,.4,.56];
const alpha=(hex,a)=>{const n=parseInt(hex.slice(1),16);return `rgba(${n>>16},${(n>>8)&255},${n&255},${a})`;};
const markerFor=col=>{const m=document.createElement('canvas');m.width=14;m.height=14;const g=m.getContext('2d');g.fillStyle=col;g.beginPath();g.arc(7,7,5,0,Math.PI*2);g.fill();return m;};

const frame={id:'frame',
 afterLayout(chart){const l=chart.legend;l.left=1318;l.right=1546;l.top=18.5;l.bottom=345;},
 beforeDraw(chart){const g=chart.ctx,a=chart.chartArea;g.save();
  g.fillStyle='#fff';g.fillRect(0,0,chart.width,chart.height);
  g.strokeStyle='#262626';g.lineWidth=1;g.strokeRect(Math.round(a.left)+.5,Math.round(a.top)+.5,Math.round(a.width),Math.round(a.height));
  g.strokeStyle='#d4d4d4';g.lineWidth=1;g.beginPath();g.roundRect(1329.5,20.5,217,296.5,4);g.stroke();
  g.restore();}};

new Chart(document.getElementById('c'),{type:'scatter',
 data:{datasets:seriesNames.map((n,i)=>({label:n,data:expand(seriesValues[i]),
   backgroundColor:ctx=>alpha(seriesColors[i],overlapAlpha[ctx.raw?ctx.raw.n:1]),borderColor:'rgba(255,255,255,.3)',borderWidth:.7,pointRadius:4.5,pointHoverRadius:4.5}))},
 plugins:[frame],
 options:{responsive:false,animation:false,events:[],
  layout:{padding:{left:8,top:8,right:15,bottom:8}},
  scales:{x:{type:'linear',min:8,max:1558,display:false},y:{type:'linear',min:8,max:932,reverse:true,display:false}},
  plugins:{tooltip:{enabled:false},
   legend:{position:'chartArea',align:'start',labels:{
     font:{family:'DejaVu Sans',size:23.9},color:'#262626',padding:12.4,usePointStyle:true,pointStyleWidth:64,
     generateLabels:c=>c.data.datasets.map((d,i)=>({text:d.label,datasetIndex:i,pointStyle:markerFor(seriesColors[i]),fontColor:'#262626',lineWidth:0,hidden:false}))}}}}
});
</script></body></html>
